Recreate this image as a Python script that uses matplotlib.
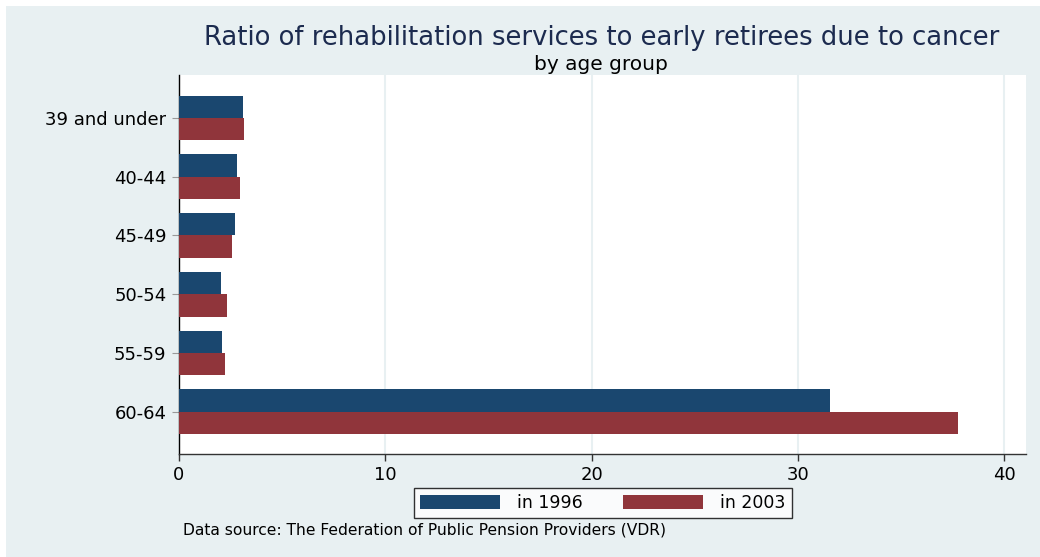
import matplotlib
matplotlib.use("Agg")
import matplotlib.pyplot as plt
import numpy as np
from matplotlib.patches import Rectangle

categories = ["39 and under", "40-44", "45-49", "50-54", "55-59", "60-64"]
vals_1996 = [3.08, 2.80, 2.71, 2.04, 2.10, 31.55]
vals_2003 = [3.17, 2.97, 2.57, 2.33, 2.23, 37.76]
series_labels = ["in 1996", "in 2003"]
xticks = [0, 10, 20, 30, 40]

BG = "#e8f0f2"
BLUE = "#1a476f"
RED = "#90353b"

plt.rcParams['font.family'] = ['DejaVu Sans']

fig = plt.figure(figsize=(10.4, 5.57), dpi=100)
fig.patch.set_facecolor("white")
fig.patches.append(Rectangle((6/1040, 0), 1, 1 - 6/557, transform=fig.transFigure,
                             facecolor=BG, edgecolor="none", zorder=-10))

ax = fig.add_axes([179/1040, 1 - 454/557, (1026-179)/1040, (454-75)/557])
ax.set_facecolor("white")

y = np.arange(len(categories))
h = 0.38
ax.barh(y - h/2, vals_1996, height=h, color=BLUE, label=series_labels[0], zorder=3)
ax.barh(y + h/2, vals_2003, height=h, color=RED, label=series_labels[1], zorder=3)

ax.set_ylim(len(categories) - 1 + 0.72, -0.73)
ax.set_xlim(0, 41.06)
ax.set_yticks(y)
ax.set_yticklabels(categories, fontsize=13)
ax.set_xticks(xticks)
ax.set_xticklabels([str(t) for t in xticks], fontsize=13)

for t in xticks[1:]:
    ax.axvline(t, color=BG, lw=1.5, zorder=1)

for s in ["top", "right"]:
    ax.spines[s].set_visible(False)
ax.spines["left"].set_color("black")
ax.spines["bottom"].set_color("#333333")
ax.spines["left"].set_linewidth(1.0)
ax.spines["bottom"].set_linewidth(1.0)
ax.tick_params(axis="x", direction="out", length=5, width=1, color="#333333", pad=4)
ax.tick_params(axis="y", direction="out", length=5, width=0.8, color="#999999", pad=4)

fig.text(602/1040, 1 - 38/557, "Ratio of rehabilitation services to early retirees due to cancer",
         ha="center", va="center", fontsize=18.6, color="#1c2b4f")
fig.text(601/1040, 1 - 64/557, "by age group", ha="center", va="center", fontsize=14.5, color="black")
fig.text(183/1040, 1 - 530/557, "Data source: The Federation of Public Pension Providers (VDR)",
         ha="left", va="center", fontsize=11.2, color="black")

leg = fig.legend(loc="center", bbox_to_anchor=(603/1040, 1 - 503/557), ncol=2,
                 fontsize=12.5, handlelength=4.6, handleheight=0.9, handletextpad=1.0,
                 columnspacing=2.3, borderpad=0.35, fancybox=False, frameon=True)
leg.get_frame().set_edgecolor("black")
leg.get_frame().set_linewidth(1.0)
leg.get_frame().set_facecolor("white")

fig.savefig("out.png", dpi=100, facecolor=fig.get_facecolor())
